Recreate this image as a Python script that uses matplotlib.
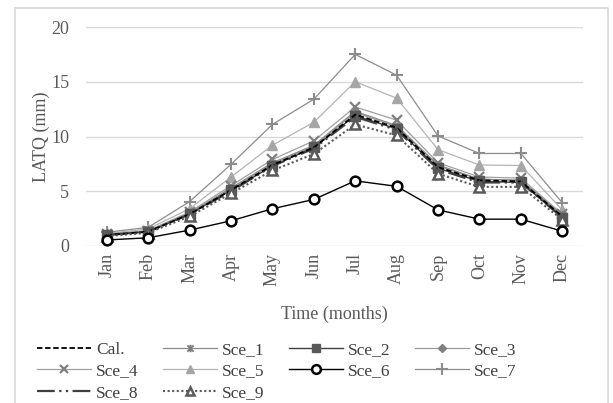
import matplotlib
matplotlib.use("Agg")
import matplotlib.pyplot as plt
from matplotlib.path import Path
from matplotlib.patches import Rectangle

plt.rcParams['font.family'] = ['Liberation Serif', 'DejaVu Serif']

months = ["Jan", "Feb", "Mar", "Apr", "May", "Jun", "Jul", "Aug", "Sep", "Oct", "Nov", "Dec"]

cal   = [1.0, 1.3, 2.9, 5.1, 7.4, 9.0, 12.0, 10.8, 7.2, 6.0, 5.9, 2.7]
sce_1 = [1.05, 1.35, 3.0, 5.3, 7.6, 9.2, 12.3, 11.0, 7.4, 6.1, 6.0, 2.8]
sce_2 = [1.0, 1.3, 2.9, 5.1, 7.3, 9.0, 11.9, 10.7, 7.1, 5.9, 5.8, 2.6]
sce_3 = [1.05, 1.35, 3.0, 5.2, 7.5, 9.1, 12.2, 10.9, 7.3, 6.1, 6.0, 2.8]
sce_4 = [1.1, 1.4, 3.1, 5.5, 7.9, 9.6, 12.7, 11.5, 7.6, 6.3, 6.2, 2.9]
sce_5 = [1.15, 1.55, 3.4, 6.3, 9.2, 11.3, 15.0, 13.5, 8.8, 7.4, 7.35, 3.3]
sce_6 = [0.55, 0.75, 1.45, 2.3, 3.4, 4.25, 5.95, 5.45, 3.3, 2.45, 2.45, 1.35]
sce_7 = [1.25, 1.7, 4.05, 7.45, 11.1, 13.4, 17.5, 15.6, 10.05, 8.45, 8.45, 3.95]
sce_8 = [1.0, 1.3, 2.9, 5.0, 7.3, 8.9, 11.8, 10.6, 7.0, 5.8, 5.8, 2.6]
sce_9 = [0.9, 1.2, 2.7, 4.8, 6.9, 8.4, 11.1, 10.1, 6.6, 5.4, 5.4, 2.4]

# star marker: an "x" with a vertical stroke through it
star = Path([(-1, -1), (1, 1), (-1, 1), (1, -1), (0, -1.2), (0, 1.2)],
            [Path.MOVETO, Path.LINETO, Path.MOVETO, Path.LINETO, Path.MOVETO, Path.LINETO])

fig = plt.figure(figsize=(6.13, 4.03), dpi=100)
fig.patches.append(Rectangle((15 / 613, -0.05), (608 - 15) / 613, 1 - 8 / 403 + 0.05,
                             transform=fig.transFigure, fill=False,
                             edgecolor="#d9d9d9", linewidth=1.2))

ax = fig.add_axes([86 / 613, 1 - 246 / 403, (583 - 86) / 613, (246 - 27) / 403])
x = list(range(len(months)))

ax.plot(x, sce_6, color="black", lw=1.0, marker="o", ms=7, mfc="white",
        mec="black", mew=1.8, label="Sce_6", zorder=3)
ax.plot(x, sce_7, color="#8c8c8c", lw=0.9, marker="+", ms=9, mew=1.5, label="Sce_7")
ax.plot(x, sce_5, color="#b4b4b4", lw=0.9, marker="^", ms=7, mfc="#a6a6a6",
        mec="#a6a6a6", label="Sce_5")
ax.plot(x, sce_4, color="#a0a0a0", lw=0.9, marker="x", ms=7, mew=1.6,
        mec="#7f7f7f", label="Sce_4")
ax.plot(x, sce_3, color="#9a9a9a", lw=0.9, marker="D", ms=4, mfc="#7f7f7f",
        mec="#7f7f7f", label="Sce_3")
ax.plot(x, sce_1, color="#8c8c8c", lw=0.9, marker=star, ms=6, mew=1.4,
        mec="#7f7f7f", label="Sce_1")
ax.plot(x, sce_2, color="#3f3f3f", lw=1.0, marker="s", ms=6.5, mfc="#595959",
        mec="#595959", label="Sce_2")
ax.plot(x, sce_8, color="#404040", lw=1.6, dashes=(8, 2, 1, 2, 1, 2), label="Sce_8")
ax.plot(x, cal, color="black", lw=1.3, ls=(0, (3, 1.5)), label="Cal.")
ax.plot(x, sce_9, color="#595959", lw=1.5, ls=(0, (1, 1.2)), marker="^", ms=6.5,
        mfc="white", mec="#595959", mew=1.8, label="Sce_9")

ax.set_xlim(-0.5, 11.5)
ax.set_ylim(0, 20)
ax.set_yticks([0, 5, 10, 15, 20])
ax.set_xticks(x)
ax.set_xticklabels(months, rotation=90)
ax.grid(axis="y", color="#d9d9d9", lw=1)
ax.set_axisbelow(True)
for s in ax.spines.values():
    s.set_visible(False)
ax.tick_params(length=0, colors="#595959", labelsize=13)
ax.tick_params(axis="y", pad=12)
ax.tick_params(axis="x", pad=5)
ax.set_ylabel("LATQ (mm)", fontsize=13, color="#595959", labelpad=1)
ax.set_xlabel("Time (months)", fontsize=13, color="#595959", labelpad=14)

handles, labels = ax.get_legend_handles_labels()
order = ["Cal.", "Sce_1", "Sce_2", "Sce_3", "Sce_4", "Sce_5", "Sce_6", "Sce_7", "Sce_8", "Sce_9"]
hmap = dict(zip(labels, handles))
# fill row by row across 4 columns
ncol = 4
rows = [order[i:i + ncol] for i in range(0, len(order), ncol)]
cols = [[r[c] for r in rows if c < len(r)] for c in range(ncol)]
flat = [name for col in cols for name in col]
leg = fig.legend([hmap[n] for n in flat], flat, ncol=ncol, loc="upper left",
                 bbox_to_anchor=(37 / 613, 1 - 342 / 403), frameon=False,
                 fontsize=12.5, handlelength=3.1, handletextpad=0.3,
                 columnspacing=1.4, labelspacing=0.3, borderpad=0,
                 borderaxespad=0, markerscale=0.9)
for t in leg.get_texts():
    t.set_color("#404040")

fig.savefig("out.png", dpi=100)
